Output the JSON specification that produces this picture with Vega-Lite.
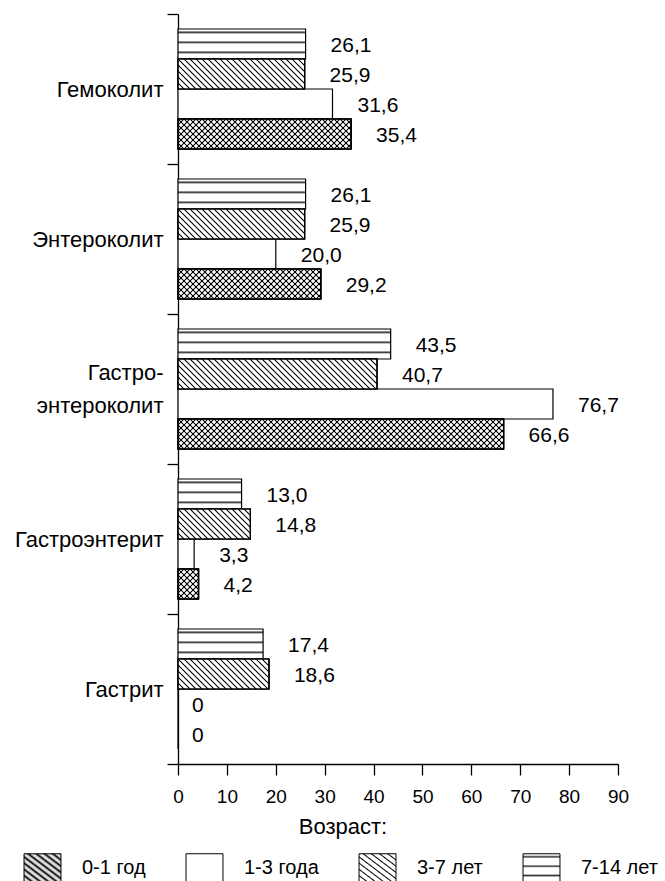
{
  "$schema": "https://vega.github.io/schema/vega-lite/v6.json",
  "width": 440,
  "height": 750,
  "autosize": {"type": "none"},
  "padding": {"left": 178, "top": 14, "right": 47, "bottom": 117},
  "background": "white",
  "config": {
    "font": "Liberation Sans",
    "view": {"stroke": null},
    "axis": {"domainColor": "#000", "tickColor": "#000", "labelColor": "#000", "domainWidth": 1.3, "tickWidth": 1.3, "grid": false},
    "legend": {"labelColor": "#000", "titleColor": "#000"}
  },
  "params": [
    {"name": "st", "value": [
      {"offset":0,"color":"#000"},{"offset":0.00367,"color":"rgba(0,0,0,0)"},{"offset":0.013,"color":"rgba(0,0,0,0)"},
      {"offset":0.01667,"color":"#000"},{"offset":0.02033,"color":"rgba(0,0,0,0)"},{"offset":0.02967,"color":"rgba(0,0,0,0)"},
      {"offset":0.03333,"color":"#000"},{"offset":0.037,"color":"rgba(0,0,0,0)"},{"offset":0.04633,"color":"rgba(0,0,0,0)"},
      {"offset":0.05,"color":"#000"},{"offset":0.05367,"color":"rgba(0,0,0,0)"},{"offset":0.063,"color":"rgba(0,0,0,0)"},
      {"offset":0.06667,"color":"#000"},{"offset":0.07033,"color":"rgba(0,0,0,0)"},{"offset":0.07967,"color":"rgba(0,0,0,0)"},
      {"offset":0.08333,"color":"#000"},{"offset":0.087,"color":"rgba(0,0,0,0)"},{"offset":0.09633,"color":"rgba(0,0,0,0)"},
      {"offset":0.1,"color":"#000"},{"offset":0.10367,"color":"rgba(0,0,0,0)"},{"offset":0.113,"color":"rgba(0,0,0,0)"},
      {"offset":0.11667,"color":"#000"},{"offset":0.12033,"color":"rgba(0,0,0,0)"},{"offset":0.12967,"color":"rgba(0,0,0,0)"},
      {"offset":0.13333,"color":"#000"},{"offset":0.137,"color":"rgba(0,0,0,0)"},{"offset":0.14633,"color":"rgba(0,0,0,0)"},
      {"offset":0.15,"color":"#000"},{"offset":0.15367,"color":"rgba(0,0,0,0)"},{"offset":0.163,"color":"rgba(0,0,0,0)"},
      {"offset":0.16667,"color":"#000"},{"offset":0.17033,"color":"rgba(0,0,0,0)"},{"offset":0.17967,"color":"rgba(0,0,0,0)"},
      {"offset":0.18333,"color":"#000"},{"offset":0.187,"color":"rgba(0,0,0,0)"},{"offset":0.19633,"color":"rgba(0,0,0,0)"},
      {"offset":0.2,"color":"#000"},{"offset":0.20367,"color":"rgba(0,0,0,0)"},{"offset":0.213,"color":"rgba(0,0,0,0)"},
      {"offset":0.21667,"color":"#000"},{"offset":0.22033,"color":"rgba(0,0,0,0)"},{"offset":0.22967,"color":"rgba(0,0,0,0)"},
      {"offset":0.23333,"color":"#000"},{"offset":0.237,"color":"rgba(0,0,0,0)"},{"offset":0.24633,"color":"rgba(0,0,0,0)"},
      {"offset":0.25,"color":"#000"},{"offset":0.25367,"color":"rgba(0,0,0,0)"},{"offset":0.263,"color":"rgba(0,0,0,0)"},
      {"offset":0.26667,"color":"#000"},{"offset":0.27033,"color":"rgba(0,0,0,0)"},{"offset":0.27967,"color":"rgba(0,0,0,0)"},
      {"offset":0.28333,"color":"#000"},{"offset":0.287,"color":"rgba(0,0,0,0)"},{"offset":0.29633,"color":"rgba(0,0,0,0)"},
      {"offset":0.3,"color":"#000"},{"offset":0.30367,"color":"rgba(0,0,0,0)"},{"offset":0.313,"color":"rgba(0,0,0,0)"},
      {"offset":0.31667,"color":"#000"},{"offset":0.32033,"color":"rgba(0,0,0,0)"},{"offset":0.32967,"color":"rgba(0,0,0,0)"},
      {"offset":0.33333,"color":"#000"},{"offset":0.337,"color":"rgba(0,0,0,0)"},{"offset":0.34633,"color":"rgba(0,0,0,0)"},
      {"offset":0.35,"color":"#000"},{"offset":0.35367,"color":"rgba(0,0,0,0)"},{"offset":0.363,"color":"rgba(0,0,0,0)"},
      {"offset":0.36667,"color":"#000"},{"offset":0.37033,"color":"rgba(0,0,0,0)"},{"offset":0.37967,"color":"rgba(0,0,0,0)"},
      {"offset":0.38333,"color":"#000"},{"offset":0.387,"color":"rgba(0,0,0,0)"},{"offset":0.39633,"color":"rgba(0,0,0,0)"},
      {"offset":0.4,"color":"#000"},{"offset":0.40367,"color":"rgba(0,0,0,0)"},{"offset":0.413,"color":"rgba(0,0,0,0)"},
      {"offset":0.41667,"color":"#000"},{"offset":0.42033,"color":"rgba(0,0,0,0)"},{"offset":0.42967,"color":"rgba(0,0,0,0)"},
      {"offset":0.43333,"color":"#000"},{"offset":0.437,"color":"rgba(0,0,0,0)"},{"offset":0.44633,"color":"rgba(0,0,0,0)"},
      {"offset":0.45,"color":"#000"},{"offset":0.45367,"color":"rgba(0,0,0,0)"},{"offset":0.463,"color":"rgba(0,0,0,0)"},
      {"offset":0.46667,"color":"#000"},{"offset":0.47033,"color":"rgba(0,0,0,0)"},{"offset":0.47967,"color":"rgba(0,0,0,0)"},
      {"offset":0.48333,"color":"#000"},{"offset":0.487,"color":"rgba(0,0,0,0)"},{"offset":0.49633,"color":"rgba(0,0,0,0)"},
      {"offset":0.5,"color":"#000"},{"offset":0.50367,"color":"rgba(0,0,0,0)"},{"offset":0.513,"color":"rgba(0,0,0,0)"},
      {"offset":0.51667,"color":"#000"},{"offset":0.52033,"color":"rgba(0,0,0,0)"},{"offset":0.52967,"color":"rgba(0,0,0,0)"},
      {"offset":0.53333,"color":"#000"},{"offset":0.537,"color":"rgba(0,0,0,0)"},{"offset":0.54633,"color":"rgba(0,0,0,0)"},
      {"offset":0.55,"color":"#000"},{"offset":0.55367,"color":"rgba(0,0,0,0)"},{"offset":0.563,"color":"rgba(0,0,0,0)"},
      {"offset":0.56667,"color":"#000"},{"offset":0.57033,"color":"rgba(0,0,0,0)"},{"offset":0.57967,"color":"rgba(0,0,0,0)"},
      {"offset":0.58333,"color":"#000"},{"offset":0.587,"color":"rgba(0,0,0,0)"},{"offset":0.59633,"color":"rgba(0,0,0,0)"},
      {"offset":0.6,"color":"#000"},{"offset":0.60367,"color":"rgba(0,0,0,0)"},{"offset":0.613,"color":"rgba(0,0,0,0)"},
      {"offset":0.61667,"color":"#000"},{"offset":0.62033,"color":"rgba(0,0,0,0)"},{"offset":0.62967,"color":"rgba(0,0,0,0)"},
      {"offset":0.63333,"color":"#000"},{"offset":0.637,"color":"rgba(0,0,0,0)"},{"offset":0.64633,"color":"rgba(0,0,0,0)"},
      {"offset":0.65,"color":"#000"},{"offset":0.65367,"color":"rgba(0,0,0,0)"},{"offset":0.663,"color":"rgba(0,0,0,0)"},
      {"offset":0.66667,"color":"#000"},{"offset":0.67033,"color":"rgba(0,0,0,0)"},{"offset":0.67967,"color":"rgba(0,0,0,0)"},
      {"offset":0.68333,"color":"#000"},{"offset":0.687,"color":"rgba(0,0,0,0)"},{"offset":0.69633,"color":"rgba(0,0,0,0)"},
      {"offset":0.7,"color":"#000"},{"offset":0.70367,"color":"rgba(0,0,0,0)"},{"offset":0.713,"color":"rgba(0,0,0,0)"},
      {"offset":0.71667,"color":"#000"},{"offset":0.72033,"color":"rgba(0,0,0,0)"},{"offset":0.72967,"color":"rgba(0,0,0,0)"},
      {"offset":0.73333,"color":"#000"},{"offset":0.737,"color":"rgba(0,0,0,0)"},{"offset":0.74633,"color":"rgba(0,0,0,0)"},
      {"offset":0.75,"color":"#000"},{"offset":0.75367,"color":"rgba(0,0,0,0)"},{"offset":0.763,"color":"rgba(0,0,0,0)"},
      {"offset":0.76667,"color":"#000"},{"offset":0.77033,"color":"rgba(0,0,0,0)"},{"offset":0.77967,"color":"rgba(0,0,0,0)"},
      {"offset":0.78333,"color":"#000"},{"offset":0.787,"color":"rgba(0,0,0,0)"},{"offset":0.79633,"color":"rgba(0,0,0,0)"},
      {"offset":0.8,"color":"#000"},{"offset":0.80367,"color":"rgba(0,0,0,0)"},{"offset":0.813,"color":"rgba(0,0,0,0)"},
      {"offset":0.81667,"color":"#000"},{"offset":0.82033,"color":"rgba(0,0,0,0)"},{"offset":0.82967,"color":"rgba(0,0,0,0)"},
      {"offset":0.83333,"color":"#000"},{"offset":0.837,"color":"rgba(0,0,0,0)"},{"offset":0.84633,"color":"rgba(0,0,0,0)"},
      {"offset":0.85,"color":"#000"},{"offset":0.85367,"color":"rgba(0,0,0,0)"},{"offset":0.863,"color":"rgba(0,0,0,0)"},
      {"offset":0.86667,"color":"#000"},{"offset":0.87033,"color":"rgba(0,0,0,0)"},{"offset":0.87967,"color":"rgba(0,0,0,0)"},
      {"offset":0.88333,"color":"#000"},{"offset":0.887,"color":"rgba(0,0,0,0)"},{"offset":0.89633,"color":"rgba(0,0,0,0)"},
      {"offset":0.9,"color":"#000"},{"offset":0.90367,"color":"rgba(0,0,0,0)"},{"offset":0.913,"color":"rgba(0,0,0,0)"},
      {"offset":0.91667,"color":"#000"},{"offset":0.92033,"color":"rgba(0,0,0,0)"},{"offset":0.92967,"color":"rgba(0,0,0,0)"},
      {"offset":0.93333,"color":"#000"},{"offset":0.937,"color":"rgba(0,0,0,0)"},{"offset":0.94633,"color":"rgba(0,0,0,0)"},
      {"offset":0.95,"color":"#000"},{"offset":0.95367,"color":"rgba(0,0,0,0)"},{"offset":0.963,"color":"rgba(0,0,0,0)"},
      {"offset":0.96667,"color":"#000"},{"offset":0.97033,"color":"rgba(0,0,0,0)"},{"offset":0.97967,"color":"rgba(0,0,0,0)"},
      {"offset":0.98333,"color":"#000"},{"offset":0.987,"color":"rgba(0,0,0,0)"},{"offset":0.99633,"color":"rgba(0,0,0,0)"},
      {"offset":1,"color":"#000"}
    ]},
    {"name": "lst", "value": [
      {"offset":0,"color":"#000"},{"offset":0.0222,"color":"#fff"},{"offset":0.0889,"color":"#fff"},
      {"offset":0.1111,"color":"#000"},{"offset":0.1333,"color":"#fff"},{"offset":0.2,"color":"#fff"},
      {"offset":0.2222,"color":"#000"},{"offset":0.2444,"color":"#fff"},{"offset":0.3111,"color":"#fff"},
      {"offset":0.3333,"color":"#000"},{"offset":0.3556,"color":"#fff"},{"offset":0.4222,"color":"#fff"},
      {"offset":0.4444,"color":"#000"},{"offset":0.4667,"color":"#fff"},{"offset":0.5333,"color":"#fff"},
      {"offset":0.5556,"color":"#000"},{"offset":0.5778,"color":"#fff"},{"offset":0.6444,"color":"#fff"},
      {"offset":0.6667,"color":"#000"},{"offset":0.6889,"color":"#fff"},{"offset":0.7556,"color":"#fff"},
      {"offset":0.7778,"color":"#000"},{"offset":0.8,"color":"#fff"},{"offset":0.8667,"color":"#fff"},
      {"offset":0.8889,"color":"#000"},{"offset":0.9111,"color":"#fff"},{"offset":0.9778,"color":"#fff"},
      {"offset":1,"color":"#000"}
    ]},
    {"name": "cst", "value": [
      {"offset":0,"color":"#000"},{"offset":0.0389,"color":"#ddd"},{"offset":0.0722,"color":"#ddd"},
      {"offset":0.1111,"color":"#000"},{"offset":0.15,"color":"#ddd"},{"offset":0.1833,"color":"#ddd"},
      {"offset":0.2222,"color":"#000"},{"offset":0.2611,"color":"#ddd"},{"offset":0.2944,"color":"#ddd"},
      {"offset":0.3333,"color":"#000"},{"offset":0.3722,"color":"#ddd"},{"offset":0.4056,"color":"#ddd"},
      {"offset":0.4444,"color":"#000"},{"offset":0.4833,"color":"#ddd"},{"offset":0.5167,"color":"#ddd"},
      {"offset":0.5556,"color":"#000"},{"offset":0.5944,"color":"#ddd"},{"offset":0.6278,"color":"#ddd"},
      {"offset":0.6667,"color":"#000"},{"offset":0.7056,"color":"#ddd"},{"offset":0.7389,"color":"#ddd"},
      {"offset":0.7778,"color":"#000"},{"offset":0.8167,"color":"#ddd"},{"offset":0.85,"color":"#ddd"},
      {"offset":0.8889,"color":"#000"},{"offset":0.9278,"color":"#ddd"},{"offset":0.9611,"color":"#ddd"},
      {"offset":1,"color":"#000"}
    ]},
    {"name": "wst", "value": [
      {"offset":0,"color":"#fff"},{"offset":0.05,"color":"#fff"},{"offset":0.111,"color":"#333"},{"offset":0.17,"color":"#fff"},
      {"offset":0.385,"color":"#fff"},{"offset":0.444,"color":"#333"},{"offset":0.5,"color":"#fff"},
      {"offset":0.72,"color":"#fff"},{"offset":0.778,"color":"#333"},{"offset":0.835,"color":"#fff"},{"offset":1,"color":"#fff"}
    ]}
  ],
  "data": {"values": [
    {"cat": "Гемоколит", "grp": "7-14 лет", "v": 26.1},
    {"cat": "Гемоколит", "grp": "3-7 лет", "v": 25.9},
    {"cat": "Гемоколит", "grp": "1-3 года", "v": 31.6},
    {"cat": "Гемоколит", "grp": "0-1 год", "v": 35.4},
    {"cat": "Энтероколит", "grp": "7-14 лет", "v": 26.1},
    {"cat": "Энтероколит", "grp": "3-7 лет", "v": 25.9},
    {"cat": "Энтероколит", "grp": "1-3 года", "v": 20.0},
    {"cat": "Энтероколит", "grp": "0-1 год", "v": 29.2},
    {"cat": "Гастро-энтероколит", "grp": "7-14 лет", "v": 43.5},
    {"cat": "Гастро-энтероколит", "grp": "3-7 лет", "v": 40.7},
    {"cat": "Гастро-энтероколит", "grp": "1-3 года", "v": 76.7},
    {"cat": "Гастро-энтероколит", "grp": "0-1 год", "v": 66.6},
    {"cat": "Гастроэнтерит", "grp": "7-14 лет", "v": 13.0},
    {"cat": "Гастроэнтерит", "grp": "3-7 лет", "v": 14.8},
    {"cat": "Гастроэнтерит", "grp": "1-3 года", "v": 3.3},
    {"cat": "Гастроэнтерит", "grp": "0-1 год", "v": 4.2},
    {"cat": "Гастрит", "grp": "7-14 лет", "v": 17.4},
    {"cat": "Гастрит", "grp": "3-7 лет", "v": 18.6},
    {"cat": "Гастрит", "grp": "1-3 года", "v": 0},
    {"cat": "Гастрит", "grp": "0-1 год", "v": 0}
  ]},
  "transform": [
    {"calculate": "datum.v == 0 ? '0' : replace(format(datum.v, '.1f'), '.', ',')", "as": "lab"}
  ],
  "encoding": {
    "y": {
      "field": "cat", "type": "nominal",
      "sort": ["Гемоколит", "Энтероколит", "Гастро-энтероколит", "Гастроэнтерит", "Гастрит"],
      "scale": {"paddingInner": 0, "paddingOuter": 0},
      "axis": {
        "title": null, "tickBand": "extent", "tickSize": 11, "labelFontSize": 22, "labelPadding": 4,
        "labelLineHeight": 33, "labelLimit": 300,
        "labelExpr": "datum.value == 'Гастро-энтероколит' ? ['Гастро-', 'энтероколит'] : datum.value",
        "labelOffset": {"condition": {"test": "datum.value == 'Гастро-энтероколит'", "value": -17}, "value": 0}
      }
    },
    "yOffset": {
      "field": "grp", "type": "nominal",
      "sort": ["7-14 лет", "3-7 лет", "1-3 года", "0-1 год"],
      "scale": {"paddingInner": 0, "paddingOuter": 0.5}
    },
    "x": {
      "field": "v", "type": "quantitative",
      "scale": {"domain": [0, 90], "nice": false},
      "axis": {"title": null, "values": [0, 10, 20, 30, 40, 50, 60, 70, 80, 90], "tickSize": 11, "labelFontSize": 19, "labelPadding": 12, "labelFlush": false, "labelOverlap": false}
    }
  },
  "layer": [
    {
      "mark": {"type": "bar", "stroke": "#000", "strokeWidth": 1.2},
      "encoding": {
        "color": {
          "field": "grp", "type": "nominal",
          "scale": {
            "domain": ["0-1 год", "1-3 года", "3-7 лет", "7-14 лет"],
            "range": [
              {"expr": "{gradient: 'linear', x1: 0, y1: 1, x2: 1, y2: 0, stops: cst}"},
              "#ffffff",
              {"expr": "{gradient: 'linear', x1: 0, y1: 1, x2: 1, y2: 0, stops: lst}"},
              {"expr": "{gradient: 'linear', x1: 0, y1: 0, x2: 0, y2: 1, stops: wst}"}
            ]
          },
          "legend": {
            "title": "Возраст:", "orient": "none", "legendX": -150, "legendY": 803,
            "direction": "horizontal", "columns": 4,
            "symbolType": "M-1.32,-1H1.32V1H-1.32Z", "symbolSize": 784,
            "symbolStrokeColor": "#000", "symbolStrokeWidth": 1, "symbolOpacity": 1,
            "labelFontSize": 20, "labelOffset": 25, "columnPadding": 38,
            "titleFontSize": 22, "titleFontWeight": "normal", "titleAnchor": "middle", "titleOrient": "top", "titlePadding": 14,
            "padding": 0,
            "encode": {"symbols": {"update": {"stroke": {"value": "#000"}, "strokeWidth": {"value": 1}}}}
          }
        }
      }
    },
    {
      "transform": [{"filter": "(datum.grp == '0-1 год' || datum.grp == '3-7 лет') && datum.v > 0"}],
      "mark": {"type": "bar", "fill": "#fff", "stroke": "#000", "strokeWidth": 1.2}
    },
    {
      "transform": [{"filter": "(datum.grp == '0-1 год' || datum.grp == '3-7 лет') && datum.v > 0"}],
      "mark": {"type": "bar", "stroke": "#000", "strokeWidth": 1.2},
      "encoding": {
        "fill": {"value": {"expr": "{gradient: 'linear', x1: 0, y1: 1, x2: 360 * scale('x', datum.v) / (pow(scale('x', datum.v), 2) + 900), y2: 1 - 10800 / (pow(scale('x', datum.v), 2) + 900), stops: st}"}}
      }
    },
    {
      "transform": [{"filter": "datum.grp == '0-1 год' && datum.v > 0"}],
      "mark": {"type": "bar", "stroke": "#000", "strokeWidth": 1.2},
      "encoding": {
        "fill": {"value": {"expr": "{gradient: 'linear', x1: 0, y1: 0, x2: 360 * scale('x', datum.v) / (pow(scale('x', datum.v), 2) + 900), y2: 10800 / (pow(scale('x', datum.v), 2) + 900), stops: st}"}}
      }
    },
    {
      "transform": [{"filter": "datum.v > 0"}],
      "mark": {"type": "text", "align": "left", "baseline": "middle", "dx": 25, "dy": 2, "fontSize": 21, "color": "#000"},
      "encoding": {"text": {"field": "lab"}}
    },
    {
      "transform": [{"filter": "datum.v == 0"}],
      "mark": {"type": "text", "align": "left", "baseline": "middle", "dx": 14, "dy": 2, "fontSize": 21, "color": "#000"},
      "encoding": {"text": {"field": "lab"}}
    }
  ]
}
